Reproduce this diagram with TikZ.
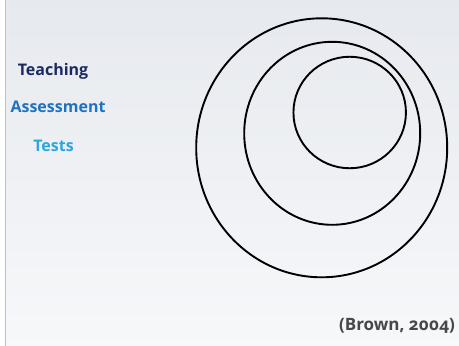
\documentclass[tikz,border=0pt]{standalone}
\usepackage{fontspec}
\setmainfont{Open Sans}
\newfontfamily\srcfont[Numbers=OldStyle]{Open Sans}
\usetikzlibrary{shapes.geometric}
\definecolor{bgA}{HTML}{DCE0E7}
\definecolor{bgB}{HTML}{F7F8FA}
\definecolor{teachc}{HTML}{1B2A63}
\definecolor{assessc}{HTML}{1E72BE}
\definecolor{testc}{HTML}{2BA6E1}
\definecolor{srcc}{HTML}{474747}
\begin{document}
\begin{tikzpicture}[x=1pt,y=-1pt,
  ring/.style={draw=black,line width=1.9pt,ellipse,inner sep=0pt},
  lbl/.style={font=\bfseries\fontsize{16}{18}\selectfont,inner sep=0pt}]
\useasboundingbox (0,0) rectangle (459,346);
\fill[white] (0,0) rectangle (6,346);
\shade[left color=bgA,right color=bgB,shading angle=0] (6,0) rectangle (459,346);
\shade[top color=bgA!40!white,bottom color=bgB,opacity=0.5] (6,0) rectangle (459,346);
\draw[color=black!25,line width=0.8pt] (5.5,0) -- (5.5,346);
\node[ring,minimum width=251pt,minimum height=259pt] (outer) at (321.7,147.8) {};
\node[ring,minimum width=176pt,minimum height=183pt] (middle) at (332.2,133.3) {};
\node[ring,minimum width=112.5pt,minimum height=111.5pt] (inner) at (349.7,112.5) {};
\node[lbl,text=teachc] (teach) at (53,71) {Teaching};
\node[lbl,text=assessc] (assess) at (58,107) {Assessment};
\node[lbl,text=testc] (tests) at (53.5,146) {Tests};
\node[lbl,text=srcc,anchor=east,font=\srcfont\bfseries\fontsize{17}{19}\selectfont] (src) at (455,326) {(Brown, 2004)};
\end{tikzpicture}
\end{document}
